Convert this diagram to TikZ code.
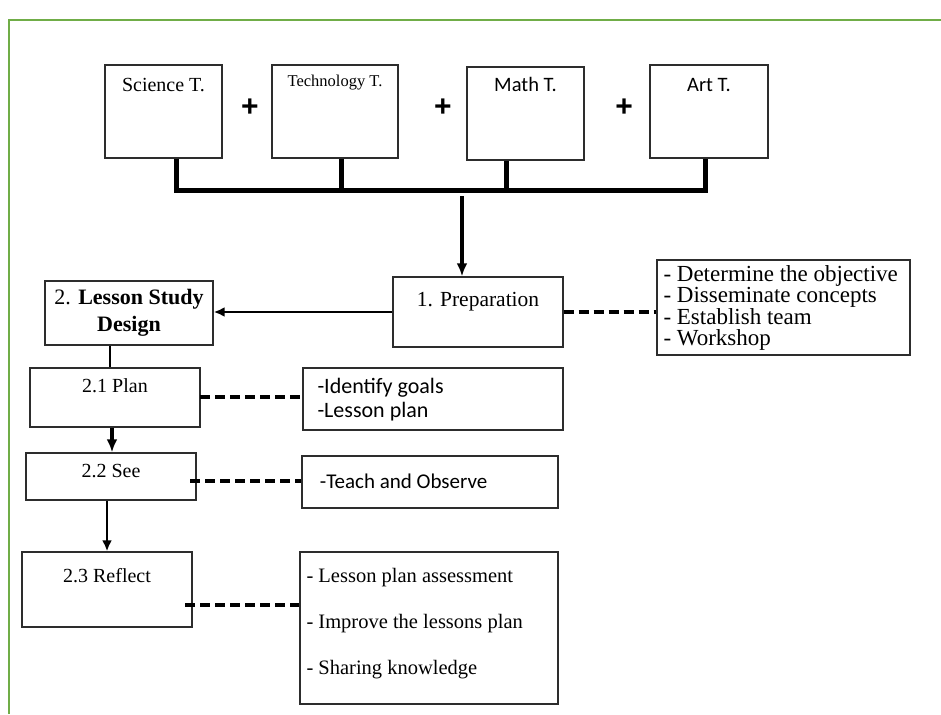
\documentclass[tikz,border=0pt]{standalone}
\usepackage{fontspec}
\setmainfont{Liberation Serif}
\newfontfamily\calfont{Carlito}
\newfontfamily\plusfont{Liberation Sans}
\usetikzlibrary{arrows.meta}
\definecolor{framegreen}{RGB}{112,173,71}
\definecolor{edgegray}{RGB}{45,45,45}
\begin{document}
\begin{tikzpicture}[x=1pt,y=-1pt,
  box/.style={draw=edgegray, line width=1.4pt, fill=white, inner sep=0pt,
              font=\fontsize{20}{24}\selectfont},
  toplbl/.style={anchor=base, font=\fontsize{20}{24}\selectfont},
  bus/.style={line width=5pt},
  arr/.style={line width=3.2pt, -{Latex[length=13pt,width=11pt]}},
  thinarr/.style={line width=2.6pt, -{Latex[length=11pt,width=10pt]}},
  dashline/.style={line width=4.5pt, dash pattern=on 10pt off 5pt},
  plus/.style={font=\plusfont\bfseries\fontsize{30}{30}\selectfont, inner sep=0pt}
]
\useasboundingbox (0,0) rectangle (941,714);
% frame
\draw[framegreen, line width=2pt] (9,714) -- (9,20) -- (941,20);

% top boxes
\node[box, minimum width=117pt, minimum height=93pt,
  label={[toplbl, yshift=-27pt]north:Science T.}] (sci) at (163.5,111.5) {};
\node[box, minimum width=126pt, minimum height=93pt,
  label={[toplbl, yshift=-22pt, font=\fontsize{16.5}{18}\selectfont]north:Technology T.}] (tech) at (335,111.5) {};
\node[box, minimum width=117pt, minimum height=93pt,
  label={[toplbl, yshift=-25pt, font=\calfont\fontsize{20.5}{24}\selectfont]north:Math T.}] (math) at (525.5,113.5) {};
\node[box, minimum width=118pt, minimum height=93pt,
  label={[toplbl, yshift=-27pt, font=\calfont\fontsize{20.5}{24}\selectfont]north:Art T.}] (art) at (709,111.5) {};

\node[plus] (p1) at (250,108) {+};
\node[plus] (p2) at (443,108) {+};
\node[plus] (p3) at (624,108) {+};

% bus
\coordinate (b1) at (176,190);
\coordinate (b2) at (341,190);
\coordinate (b3) at (506,190);
\coordinate (b4) at (705,190);
\draw[bus] (b1 |- sci.south) -- (b1) -- (b4) -- (b4 |- art.south);
\draw[bus] (b2 |- tech.south) -- (b2);
\draw[bus] (b3 |- math.south) -- (b3);

% middle row
\node[box, minimum width=170pt, minimum height=70pt,
  label={[toplbl, yshift=-30pt, font=\fontsize{21.5}{24}\selectfont]north:1. Preparation}] (prep) at (478,312) {};
\node[box, minimum width=168pt, minimum height=64pt, align=center,
  font=\fontsize{22}{27}\selectfont] (lsd) at (129,313) {2. \textbf{Lesson Study}\\\textbf{Design}};
\node[box, minimum width=253pt, minimum height=95pt,
  label={[anchor=north west, align=left, inner sep=0pt, xshift=7pt, yshift=-6pt,
          font=\fontsize{23}{21.5}\selectfont]north west:- Determine the objective\\- Disseminate concepts\\- Establish team\\- Workshop}]
  (det) at (783.5,307.5) {};

\coordinate (dn) at (462,196);
\draw[arr] (dn) -- (dn |- prep.north);
\draw[thinarr] (prep.west) -- (prep.west -| lsd.east);
\draw[dashline] (prep.east) -- (prep.east -| det.west);

% left column
\node[box, minimum width=170pt, minimum height=59pt,
  label={[toplbl, yshift=-25pt]north:2.1 Plan}] (plan) at (115,397.5) {};
\node[box, minimum width=260pt, minimum height=62pt,
  label={[anchor=north west, align=left, inner sep=0pt, xshift=15pt, yshift=-11pt,
          font=\calfont\fontsize{22}{24}\selectfont]north west:-Identify goals\\-Lesson plan}]
  (ident) at (433,399) {};

\node[box, minimum width=170pt, minimum height=47pt,
  label={[toplbl, yshift=-25pt]north:2.2 See}] (see) at (111,476.5) {};
\node[box, minimum width=256pt, minimum height=52pt,
  label={[toplbl, anchor=base west, yshift=-33pt, xshift=15pt, font=\calfont\fontsize{21}{24}\selectfont]north west:-Teach and Observe}] (teach) at (430,482) {};

\node[box, minimum width=170pt, minimum height=75pt,
  label={[toplbl, yshift=-31pt]north:2.3 Reflect}] (refl) at (107,589.5) {};
\node[box, minimum width=258pt, minimum height=152pt,
  label={[anchor=north west, align=left, inner sep=0pt, xshift=7pt, yshift=-17pt,
          font=\fontsize{20.5}{46}\selectfont]north west:- Lesson plan assessment\\- Improve the lessons plan\\- Sharing knowledge}]
  (items) at (429,628) {};

% verticals
\coordinate (v1) at (110,0);
\coordinate (v2) at (112,0);
\coordinate (v3) at (107,0);
\draw[line width=2.6pt] (lsd.south -| v1) -- (plan.north -| v1);
\draw[arr] (plan.south -| v2) -- (see.north -| v2);
\draw[thinarr] (see.south -| v3) -- (refl.north -| v3);

% dashed links
\coordinate (d1) at (200,397);
\coordinate (d2) at (190,481);
\coordinate (d3) at (185,605);
\draw[dashline] (d1) -- (d1 -| ident.west);
\draw[dashline] (d2) -- (d2 -| teach.west);
\draw[dashline] (d3) -- (d3 -| items.west);
\end{tikzpicture}
\end{document}
